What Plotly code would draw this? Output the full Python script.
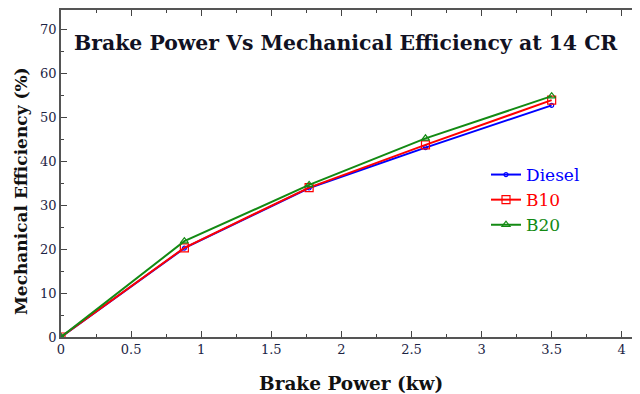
import plotly.graph_objects as go

brake_power = [0, 0.88, 1.77, 2.6, 3.5]
diesel = [0, 20.2, 33.9, 43.1, 52.7]
b10 = [0, 20.3, 34.0, 43.7, 53.9]
b20 = [0, 21.8, 34.6, 45.2, 54.8]

series = [
    ("Diesel", diesel, "#0000ff", "circle-open", 4),
    ("B10", b10, "#ff0000", "square-open", 8),
    ("B20", b20, "#138a13", "triangle-up-open", 7),
]

fig = go.Figure()
for name, vals, color, sym, size in series:
    fig.add_trace(go.Scatter(
        x=brake_power, y=vals, mode="lines+markers",
        name=f"<span style='color:{color}'>{name}</span>",
        line=dict(color=color, width=2),
        marker=dict(symbol=sym, size=size, color=color, line=dict(width=1.2, color=color)),
    ))

tickfont = dict(family="DejaVu Serif", size=13, color="#1c2444")
axis_common = dict(
    showline=True, linecolor="#555555", linewidth=1.5, mirror="ticks",
    ticks="inside", ticklen=6, tickcolor="#444444", tickwidth=1.2,
    showgrid=False, zeroline=False, tickfont=tickfont, automargin=False,
)

# plot area (page pixels): x 61..639, y 10..337 ; page body has an 8px margin
OFF = 8
W, H = 640 - OFF, 394 - OFF
PX0, PX1, PY0, PY1 = 61, 639, 10, 337
def px(x):
    return (x - PX0) / (PX1 - PX0)
def py(y):
    return (PY1 - y) / (PY1 - PY0)

fig.update_layout(
    width=W, height=H,
    margin=dict(l=PX0 - OFF, r=W - (PX1 - OFF), t=PY0 - OFF, b=H - (PY1 - OFF)),
    paper_bgcolor="white", plot_bgcolor="white",
    showlegend=True,
    legend=dict(
        x=px(486), y=py(157), xanchor="left", yanchor="top",
        font=dict(family="DejaVu Serif", size=17),
        bgcolor="rgba(0,0,0,0)", tracegroupgap=0, itemwidth=30,
    ),
    xaxis=dict(
        range=[0, 4.123], tickvals=[0, 0.5, 1, 1.5, 2, 2.5, 3, 3.5, 4],
        ticktext=["0", "0.5", "1", "1.5", "2", "2.5", "3", "3.5", "4"],
        minor=dict(ticks="inside", ticklen=3, dtick=0.25, tickcolor="#444444", showgrid=False),
        **axis_common,
    ),
    yaxis=dict(
        range=[0, 74.4], tickvals=[0, 10, 20, 30, 40, 50, 60, 70],
        minor=dict(ticks="inside", ticklen=3, dtick=5, tickcolor="#444444", showgrid=False),
        **axis_common,
    ),
    annotations=[
        dict(
            text="<b>Brake Power Vs Mechanical Efficiency at 14 CR</b>",
            xref="paper", yref="paper", x=px(72), y=py(43),
            xanchor="left", yanchor="middle", showarrow=False,
            font=dict(family="DejaVu Serif", size=20.4, color="#111122"),
        ),
        dict(
            text="<b>Brake Power (kw)</b>",
            xref="paper", yref="paper", x=px(351), y=py(383),
            xanchor="center", yanchor="middle", showarrow=False,
            font=dict(family="DejaVu Serif", size=18.5, color="#111111"),
        ),
        dict(
            text="<b>Mechanical Efficiency (%)</b>",
            xref="paper", yref="paper", x=px(21), y=py(191), textangle=-90,
            xanchor="center", yanchor="middle", showarrow=False,
            font=dict(family="DejaVu Serif", size=17, color="#111111"),
        ),
    ],
)

fig.write_html("out.html")
